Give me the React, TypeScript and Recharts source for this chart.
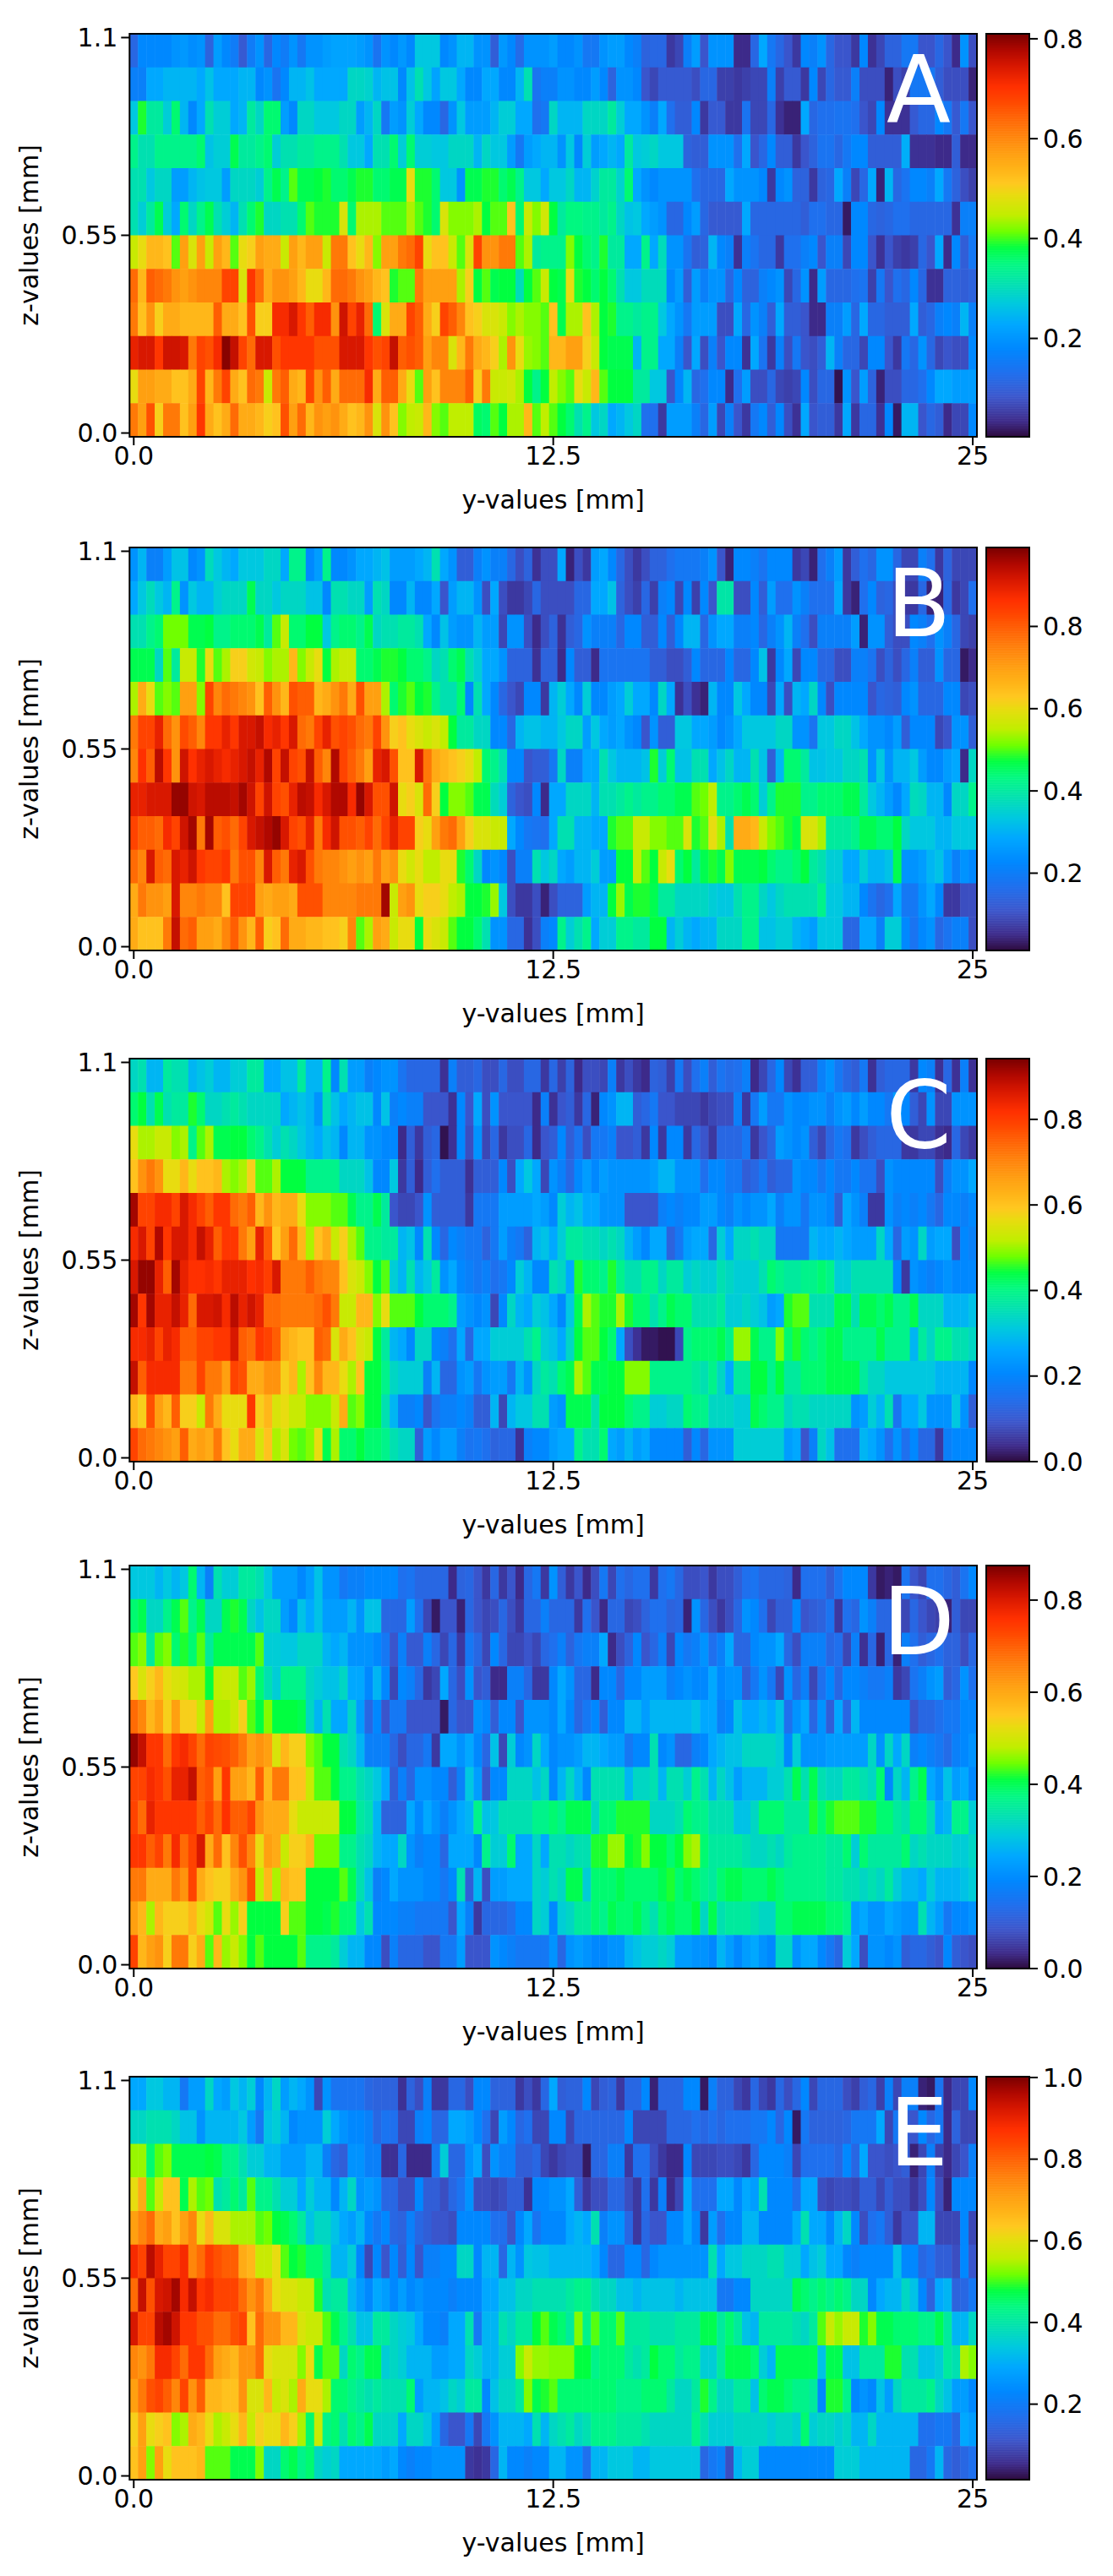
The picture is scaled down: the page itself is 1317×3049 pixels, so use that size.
import { ScatterChart, Scatter, XAxis, YAxis } from 'recharts'

// Each panel has 12 rows (top row first) of 101 columns.
const levelsA: number[][] = [
  [14,22,22,22,22,24,25,23,24,13, 26,22,19,11,19,24,14,22,19,24, 18,24,24,26,27,27,27,26,24,17, 24,22,25,22,33,33,33,22,24,30, 30,24,24,12,25,22,15,24,24,24, 26,22,22,24,18,18,24,26,26,22, 20,13,14,14,6,8,20,26,10,24, 24,24,4,4,14,28,18,14,10,6, 22,20,24,14,10,10,6,22,5,8, 13,13,18,18,10,10,14,10,4,24, 9],
  [20,20,28,28,30,30,30,30,28,32, 28,28,28,30,30,22,24,17,22,30, 30,32,28,28,28,28,36,36,35,30, 32,32,22,32,38,33,27,33,33,28, 22,22,28,28,22,22,30,38,17,20, 20,24,24,22,22,26,22,13,24,24, 22,10,8,11,11,11,11,9,14,14, 7,7,6,7,8,8,20,7,11,11, 6,22,8,14,11,11,20,9,9,9, 3,9,7,18,18,18,12,9,9,9, 3],
  [33,48,40,40,34,44,30,22,28,38, 34,34,28,30,40,36,44,44,26,22, 36,36,33,33,33,36,36,26,30,36, 18,26,24,34,28,22,22,14,24,33, 26,26,26,30,34,34,28,28,16,18, 36,30,30,30,36,36,36,40,34,28, 28,24,20,28,16,12,12,22,6,11, 11,6,6,17,8,8,14,5,3,3, 28,14,16,16,17,17,16,10,8,22, 5,5,5,11,14,14,22,18,11,18, 10],
  [42,38,38,42,42,42,42,42,44,32, 34,34,46,40,40,42,44,34,38,38, 40,40,42,42,42,38,33,33,28,38, 38,44,34,44,34,34,33,33,36,36, 36,30,36,33,33,26,18,26,28,30, 30,24,33,22,34,26,28,30,28,40, 33,34,36,33,33,33,13,12,12,24, 24,24,16,28,10,14,22,12,12,6, 10,13,17,17,14,18,22,22,12,12, 12,12,29,5,5,5,4,4,12,4, 4],
  [38,38,33,36,36,26,26,30,32,33, 33,26,36,36,36,34,42,46,42,50, 46,46,47,48,44,44,46,48,48,44, 44,46,46,60,48,48,44,33,33,24, 46,46,48,48,44,46,42,33,33,28, 33,33,36,30,30,35,40,40,35,44, 28,24,22,24,24,24,24,16,14,14, 14,28,24,24,24,22,6,22,24,13, 13,6,13,14,28,20,8,14,28,3, 30,14,17,22,22,20,28,18,13,9, 7],
  [38,34,40,46,34,28,44,36,42,46, 38,34,30,38,44,48,36,36,38,38, 44,50,48,48,48,58,44,54,54,54, 50,50,50,54,50,48,44,58,52,52, 52,54,47,50,50,64,44,56,52,57, 47,40,43,43,42,42,40,42,36,32, 33,28,26,24,14,14,22,26,14,11, 11,11,11,28,14,14,14,14,14,14, 12,16,16,14,14,2,22,22,14,13, 14,16,16,14,14,14,14,14,5,20, 20],
  [56,60,66,66,64,50,70,58,70,56, 70,66,50,60,62,70,68,68,56,70, 66,70,70,56,76,76,64,60,66,52, 70,70,76,78,84,60,64,64,56,50, 58,84,72,72,76,76,50,54,40,42, 42,42,52,47,44,42,48,40,40,28, 28,42,28,37,24,24,17,12,13,30, 22,20,5,20,17,14,14,6,16,16, 20,22,10,20,20,8,22,22,10,5, 10,7,6,7,14,10,28,4,22,12, 18],
  [78,66,80,78,76,72,70,72,74,74, 74,84,84,58,86,78,68,72,72,70, 66,60,60,66,78,78,76,72,70,66, 64,48,50,50,76,70,70,70,70,54, 62,47,50,46,47,47,37,47,50,56, 47,46,60,48,47,44,47,44,38,33, 33,37,37,37,22,26,12,26,20,24, 24,14,22,13,13,20,22,24,8,14, 24,4,26,14,14,14,16,17,7,18, 10,16,14,22,14,5,5,13,13,12, 13],
  [76,64,72,62,68,68,66,66,66,66, 80,68,68,64,82,62,62,88,88,92, 86,80,88,88,72,93,84,90,78,44, 58,68,68,84,80,68,62,84,80,74, 64,62,58,58,56,52,54,52,52,50, 64,46,54,54,64,54,47,48,42,42, 40,42,42,33,28,24,18,26,26,26, 9,9,28,14,24,20,12,28,12,12, 10,4,4,20,20,26,14,28,14,14, 12,12,12,28,12,14,20,22,20,30, 20],
  [90,92,92,86,93,93,92,76,84,82, 88,99,94,84,78,92,92,82,86,86, 86,86,82,82,82,92,92,92,86,82, 84,94,80,82,80,70,74,74,58,66, 76,68,66,62,54,72,60,53,52,50, 66,66,70,70,62,56,47,46,46,46, 30,42,42,28,28,20,10,28,9,20, 10,22,22,5,28,17,6,20,9,18, 10,9,12,30,20,14,14,8,22,22, 10,6,18,14,24,14,8,10,9,9, 22],
  [60,70,70,68,68,64,64,68,84,66, 76,84,68,64,78,76,56,76,80,68, 66,84,72,80,68,78,78,78,88,68, 80,80,68,60,50,70,64,74,74,74, 80,62,76,56,56,57,54,47,42,47, 55,52,50,60,56,66,50,47,47,47, 40,40,33,33,10,22,30,14,16,22, 22,4,16,26,9,9,14,8,7,8, 22,9,14,14,1,24,10,26,13,3, 9,9,14,14,16,22,28,28,26,26, 26],
  [76,70,82,62,76,76,64,70,86,68, 64,68,78,68,68,66,62,64,82,70, 78,66,72,70,72,68,64,66,72,58, 72,64,52,55,56,66,52,50,55,55, 55,45,44,50,47,54,54,66,50,55, 50,47,44,38,42,33,36,28,30,33, 36,16,16,6,26,26,26,20,14,26, 8,20,10,6,18,22,12,22,9,5, 28,10,12,12,6,28,6,14,14,5, 22,2,30,30,10,14,12,4,8,8, 22],
]

const levelsB: number[][] = [
  [24,30,20,20,26,32,32,22,24,37, 33,30,28,33,33,33,36,36,28,42, 42,22,26,42,22,22,24,28,28,30, 32,26,26,26,28,30,38,28,24,12, 12,20,24,20,20,14,9,13,5,9, 9,28,3,9,6,26,28,22,14,9, 6,9,13,13,16,18,18,18,20,24, 10,3,22,22,20,17,22,22,22,6, 8,3,16,20,26,6,12,16,14,24, 24,14,8,8,20,16,6,13,8,8, 8],
  [28,33,37,33,30,42,24,33,30,30, 34,36,36,36,46,36,36,33,36,36, 36,32,32,22,38,38,36,36,26,38, 36,22,22,30,22,22,28,10,26,30, 30,24,9,28,9,6,6,8,14,9, 9,9,9,14,14,28,28,32,13,9, 7,14,7,20,22,8,22,7,22,10, 39,39,9,9,22,12,26,16,16,24, 20,16,16,16,28,6,3,16,22,13, 14,9,6,6,14,3,3,14,6,8, 16],
  [38,38,42,44,51,51,51,46,46,47, 42,42,44,44,44,46,40,50,56,44, 44,47,47,33,42,44,44,42,46,36, 38,38,40,40,38,28,22,32,26,24, 24,30,26,26,8,24,24,9,4,9, 13,5,12,14,24,20,20,20,14,22, 22,12,12,22,12,22,30,30,14,24, 28,28,20,20,22,14,20,24,30,20, 16,9,20,20,20,20,26,3,24,24, 12,9,9,22,20,16,24,20,14,8, 7],
  [46,46,46,36,50,40,56,56,48,60, 50,54,62,62,57,56,52,54,54,66, 52,56,60,47,54,56,56,44,44,46, 48,48,47,44,44,42,36,38,44,46, 38,34,28,28,24,13,13,13,5,13, 13,4,22,12,12,4,17,17,17,17, 17,17,12,12,9,9,12,22,14,14, 14,22,14,14,22,32,6,22,28,8, 22,22,14,14,9,9,20,20,17,9, 13,9,14,20,12,12,24,14,14,2, 4],
  [54,68,60,50,52,50,70,70,52,84, 74,78,76,74,72,64,80,72,66,82, 80,80,66,68,72,76,68,82,70,70, 54,44,48,50,47,48,42,38,38,44, 22,38,28,22,14,10,8,22,22,6, 30,34,28,22,34,22,22,26,28,34, 28,28,22,36,28,5,9,5,3,30, 22,22,33,28,22,22,8,28,9,30, 28,36,22,9,22,22,22,22,10,14, 13,12,22,24,14,14,14,22,22,8, 9],
  [76,84,84,90,78,72,83,80,74,86, 86,90,86,92,92,94,88,90,86,92, 78,76,84,90,82,84,82,78,76,84, 72,62,64,60,58,56,58,55,47,40, 40,36,36,22,22,14,30,32,32,30, 30,33,36,36,26,33,28,26,28,24, 22,10,24,12,12,33,33,28,28,26, 22,24,28,33,33,33,33,36,36,24, 24,17,33,33,36,36,32,28,24,24, 22,26,12,22,22,22,8,10,24,24, 12],
  [74,87,80,95,86,72,93,87,90,92, 90,88,90,92,94,90,96,84,94,84, 82,94,80,74,96,84,80,76,70,90, 92,82,64,64,92,76,68,66,64,62, 60,55,44,42,38,22,22,10,12,12, 18,36,20,20,28,28,38,33,30,30, 30,32,48,34,44,32,32,38,38,28, 32,36,30,30,38,32,12,30,44,44, 40,32,32,33,33,36,36,38,24,33, 24,30,30,33,26,22,22,26,28,4, 36],
  [90,90,92,92,92,98,98,93,92,95, 95,95,94,97,93,84,93,84,82,90, 95,94,88,92,96,96,88,98,92,82, 82,93,60,62,58,78,62,47,52,52, 50,46,46,37,34,13,10,9,22,4, 28,28,36,36,36,30,38,38,40,42, 40,42,42,44,44,46,46,50,51,55, 42,42,44,46,44,34,42,48,48,48, 42,42,44,44,44,46,46,40,33,30, 26,22,28,37,36,30,30,22,36,36, 42],
  [84,80,80,78,88,84,93,97,76,97, 80,82,78,84,92,94,96,98,92,84, 82,90,76,88,93,82,82,80,84,78, 84,90,84,84,62,60,70,76,78,70, 62,58,58,56,56,28,22,18,17,16, 28,38,38,30,30,28,28,48,50,50, 56,56,52,52,50,50,58,48,50,60, 54,38,68,68,66,56,52,50,48,46, 58,58,54,40,40,40,42,46,46,44, 44,47,36,33,33,33,30,30,33,33, 33],
  [78,74,92,80,78,92,90,93,86,84, 84,86,76,82,82,74,92,80,76,90, 92,82,76,74,74,72,70,72,70,76, 70,72,60,57,60,55,55,60,60,48, 44,36,22,24,22,9,20,20,38,33, 36,28,26,30,30,34,26,26,47,47, 56,50,47,56,60,44,47,40,46,48, 46,52,46,46,46,47,44,42,42,44, 47,40,38,34,34,28,28,34,30,30, 32,46,24,24,26,30,32,26,20,24, 22],
  [68,76,72,72,70,92,74,74,76,74, 74,64,84,84,84,70,68,70,70,68, 82,82,82,74,74,74,74,76,76,76, 97,56,70,72,60,62,62,60,55,54, 47,47,48,53,33,9,6,6,9,3, 9,13,13,13,26,30,30,47,53,46, 48,48,46,40,40,36,36,36,36,34, 33,33,38,42,42,36,33,36,38,38, 38,38,42,33,33,30,30,22,17,14, 16,28,18,18,24,28,22,6,6,9, 9],
  [68,64,64,64,76,94,78,80,70,70, 68,74,80,72,66,80,62,64,78,68, 68,66,66,64,64,62,74,50,54,70, 68,56,60,60,47,60,58,56,50,47, 47,44,38,24,24,14,14,5,9,20, 22,42,34,38,42,28,34,34,42,42, 40,40,47,47,30,34,30,28,30,30, 36,36,36,42,42,32,32,34,34,30, 28,26,33,33,33,14,14,28,28,20, 34,34,22,17,22,24,14,17,20,20, 9],
]

const levelsC: number[][] = [
  [36,38,30,30,40,38,38,30,32,34, 30,30,34,34,40,40,28,28,32,32, 40,30,30,42,22,38,26,26,20,22, 24,24,17,14,14,14,14,5,20,12, 12,14,9,9,14,9,9,14,14,6, 14,7,13,4,9,9,8,20,6,9, 6,4,13,12,7,18,9,16,20,12, 17,15,16,20,4,8,14,22,8,5, 12,12,20,24,18,14,12,18,5,12, 14,14,14,6,22,20,5,14,5,20, 5],
  [44,47,38,46,38,40,40,48,44,36, 36,38,40,38,36,36,36,36,28,30, 32,30,24,38,32,28,30,32,32,22, 32,20,22,20,20,10,10,10,5,22, 10,28,9,24,10,10,10,10,4,20, 5,10,12,6,14,3,22,24,30,30, 12,14,18,10,10,8,8,8,6,8, 9,9,20,6,18,26,18,18,24,22, 22,24,24,20,24,26,22,26,22,22, 18,26,22,12,8,24,8,8,24,24, 24],
  [60,54,54,56,56,52,54,42,50,54, 46,46,47,47,44,42,38,34,38,36, 33,30,28,32,30,22,30,30,24,24, 22,22,4,12,6,12,14,1,5,22, 9,24,8,14,6,9,9,14,4,10, 12,22,12,17,9,18,18,20,10,10, 12,6,22,6,22,22,6,14,10,6, 14,14,14,18,6,10,14,26,24,22, 24,12,8,14,18,16,6,9,12,14, 14,14,6,6,8,8,5,4,14,8, 6],
  [64,72,76,72,60,60,66,60,64,64, 66,54,52,54,62,50,50,54,47,47, 47,42,42,42,42,36,36,36,32,22, 22,33,6,12,4,12,16,12,12,12, 5,12,12,12,22,9,28,33,28,8, 24,20,14,22,26,22,26,24,24,24, 24,24,26,30,30,24,24,24,16,22, 22,18,18,12,14,18,12,14,14,24, 22,22,18,22,18,18,22,17,17,9, 24,22,22,22,22,22,9,20,24,24, 28],
  [97,84,84,88,88,84,92,88,84,80, 86,86,78,76,80,66,72,66,68,68, 60,52,52,52,50,50,46,42,42,46, 40,10,8,8,10,24,12,12,12,12, 6,18,18,18,26,26,26,26,28,26, 22,34,30,32,28,28,24,24,24,10, 10,10,10,20,22,20,22,22,26,26, 22,20,24,22,24,24,28,20,24,24, 18,24,24,22,12,28,24,20,6,6, 24,20,22,20,22,18,14,22,22,20, 22],
  [88,92,84,96,86,92,92,88,94,90, 80,86,86,76,70,90,80,63,70,78, 66,54,64,68,56,62,54,50,42,42, 40,40,30,32,22,38,22,14,22,20, 18,18,13,18,26,20,18,13,30,32, 28,34,40,40,38,38,36,38,36,30, 26,22,28,28,13,18,26,28,28,14, 34,28,36,36,38,36,36,18,18,18, 18,30,28,28,30,28,26,26,26,36, 28,14,26,24,36,26,28,28,9,22, 20],
  [92,98,98,90,80,97,90,87,87,88, 86,90,90,90,87,88,85,92,76,76, 76,80,76,74,74,64,58,56,52,47, 50,34,30,38,30,33,40,24,28,22, 20,18,20,16,18,22,34,30,22,22, 38,36,28,48,44,44,42,48,42,38, 38,42,42,36,40,40,34,36,34,34, 38,36,34,34,34,38,44,42,40,40, 42,42,44,42,34,34,38,38,38,38, 38,22,6,24,22,20,22,24,22,22, 22],
  [97,86,97,90,90,94,90,78,92,92, 93,88,95,90,93,90,78,78,76,76, 76,76,78,82,76,56,56,66,66,52, 60,50,50,50,47,44,44,44,42,26, 24,22,24,8,22,36,30,28,34,32, 28,22,33,46,54,50,48,48,54,48, 44,44,38,42,46,44,44,38,38,38, 40,34,34,36,34,32,26,28,48,50, 50,38,38,38,46,46,38,46,46,44, 46,42,42,46,36,36,36,30,30,30, 32],
  [88,88,90,84,90,88,80,80,84,84, 86,86,92,80,78,86,84,80,68,66, 64,64,80,78,58,68,64,58,56,47, 40,30,28,22,36,36,22,20,16,28, 14,28,28,34,34,34,34,38,42,34, 32,28,36,47,50,50,47,44,28,9, 5,2,2,1,1,8,42,44,44,44, 46,42,53,53,46,42,42,52,44,48, 44,42,44,46,46,42,42,42,42,46, 42,42,42,30,40,36,42,42,38,38, 36],
  [94,80,88,88,88,88,76,76,84,76, 76,70,84,82,68,68,72,72,62,66, 54,64,74,66,66,60,54,64,47,47, 42,36,34,34,34,20,30,14,14,24, 26,18,24,26,26,18,30,24,36,40, 38,44,46,54,50,46,46,47,47,52, 52,52,42,42,42,42,42,40,38,42, 36,28,40,40,47,47,42,47,40,40, 44,44,44,46,46,46,46,40,36,36, 33,33,33,33,33,33,30,30,30,30, 22],
  [66,62,82,70,66,80,62,62,56,76, 68,60,60,60,86,62,66,58,60,56, 56,52,52,52,56,68,50,52,47,47, 38,30,20,20,22,10,17,20,20,22, 20,12,12,30,8,30,33,33,38,38, 26,24,46,46,46,38,47,47,47,44, 42,42,34,34,36,36,44,42,42,36, 36,36,34,34,46,44,42,42,36,38, 38,36,36,36,36,36,24,26,34,30, 38,17,28,28,33,24,24,24,33,24, 12],
  [84,78,76,74,72,70,80,68,70,68, 76,64,60,68,68,58,64,54,58,51, 50,52,60,46,54,44,44,47,44,44, 42,38,36,36,12,26,22,26,26,20, 17,18,16,13,14,14,5,20,22,22, 26,28,28,42,38,38,44,28,26,30, 26,28,22,22,22,22,12,22,14,24, 24,24,34,34,34,34,34,34,26,28, 10,20,36,32,16,16,16,30,28,24, 16,24,16,22,14,14,6,20,22,22, 22],
]

const levelsD: number[][] = [
  [33,33,33,30,33,30,33,44,30,20, 38,34,34,40,40,38,33,26,26,26, 22,26,32,24,24,18,20,20,22,22, 22,22,16,17,14,14,14,14,4,13, 14,10,6,14,6,10,4,14,18,6, 24,12,6,10,4,9,18,8,16,14, 16,16,6,16,18,14,9,9,10,6, 9,9,12,16,17,14,14,14,13,4, 16,16,16,12,17,22,22,22,6,2, 3,2,17,10,8,16,16,14,12,17, 22],
  [44,46,36,36,42,46,50,42,46,36, 36,46,48,46,36,32,36,36,26,22, 32,28,32,26,26,26,30,24,32,32, 14,14,14,26,16,8,2,10,10,3, 14,10,8,9,14,9,6,14,14,20, 14,14,14,6,16,10,4,14,14,8, 9,13,16,16,13,14,3,24,14,9, 6,9,14,24,22,16,8,12,12,22, 10,12,13,17,6,16,14,24,20,14, 14,9,8,14,10,8,7,3,12,8, 8],
  [50,52,40,50,52,44,48,44,50,40, 46,46,46,46,46,50,34,34,33,33, 36,36,36,30,28,30,24,24,24,22, 18,10,20,11,11,20,14,8,14,6, 18,14,8,22,14,8,8,10,8,14, 16,20,13,18,20,20,28,4,9,13, 22,10,14,20,8,22,18,20,24,16, 20,28,14,14,22,24,24,28,14,9, 20,20,20,14,16,8,20,5,14,3, 14,3,20,16,12,14,16,13,13,9, 14],
  [63,58,62,66,60,58,57,54,54,47, 55,56,56,50,53,44,38,34,42,42, 42,36,34,32,32,36,28,28,22,30, 22,8,22,20,14,6,8,28,14,9, 24,10,12,4,4,20,20,14,6,6, 22,28,24,14,14,4,22,22,14,22, 22,26,26,26,20,22,24,22,22,28, 22,24,24,12,18,24,18,8,24,14, 20,8,16,22,14,22,22,20,18,18, 20,6,8,17,20,24,26,12,14,24, 16],
  [78,74,66,70,62,70,62,62,56,70, 54,54,56,62,50,47,52,47,47,47, 46,36,30,38,28,28,36,26,14,22, 10,18,18,10,10,10,10,2,14,10, 10,24,22,12,22,22,10,24,24,24, 22,28,22,14,18,22,12,22,22,30, 30,26,30,30,30,30,30,32,28,28, 20,22,32,28,28,30,28,32,16,24, 28,14,24,12,28,14,30,22,22,22, 22,22,22,10,14,14,16,18,18,22, 22],
  [98,94,86,86,78,86,88,84,78,84, 83,82,80,76,70,72,70,58,66,62, 62,52,50,47,47,38,36,30,20,20, 20,14,9,14,14,18,6,28,28,24, 28,22,14,32,8,34,22,24,36,28, 22,24,24,26,30,30,28,26,26,18, 22,22,38,22,24,14,14,20,22,28, 30,32,32,36,36,36,36,34,22,34, 24,24,24,26,26,26,26,26,36,24, 36,28,36,20,22,20,18,15,20,22, 24],
  [84,84,88,86,82,90,90,94,80,82, 70,86,70,70,66,80,66,76,76,64, 64,56,50,50,47,42,42,38,36,33, 28,12,20,14,24,24,22,22,12,20, 33,26,10,22,22,36,36,36,32,36, 22,30,36,30,22,38,38,38,38,30, 36,36,38,30,38,38,34,42,38,30, 36,32,26,30,30,30,34,34,38,46, 38,46,38,36,36,40,40,38,36,44, 22,36,30,42,46,28,24,32,26,28, 22],
  [84,78,90,86,86,86,86,86,80,84, 78,87,80,80,84,72,68,68,68,60, 56,56,56,56,56,47,47,40,38,30, 13,13,13,28,22,28,24,20,24,28, 30,42,32,33,38,38,38,38,42,42, 44,42,46,46,46,36,44,44,48,48, 48,48,36,36,36,38,44,42,42,38, 38,38,32,32,36,44,44,44,40,40, 40,48,44,48,50,50,50,48,48,44, 44,40,38,44,44,38,28,30,42,42, 34],
  [86,86,80,84,76,88,78,84,92,68, 78,64,74,82,74,60,70,68,56,62, 62,66,51,51,51,42,42,38,36,30, 28,28,36,24,20,22,22,14,28,28, 28,22,42,34,34,44,28,28,36,28, 38,38,36,38,38,48,48,53,53,47, 48,52,47,47,44,47,52,54,44,40, 40,40,40,38,36,36,38,36,40,42, 42,42,42,40,40,44,34,44,40,40, 40,40,44,36,38,36,36,36,34,34, 36],
  [76,76,68,68,68,76,72,84,68,64, 62,62,68,72,82,55,66,54,66,64, 64,47,47,47,47,50,46,38,32,20, 22,28,24,24,24,22,22,18,22,38, 12,30,9,26,26,28,28,28,36,34, 38,36,46,46,34,44,44,44,46,44, 44,44,44,46,48,44,46,44,42,40, 44,46,46,44,44,44,46,44,42,42, 42,42,42,40,40,38,38,36,38,36, 40,34,30,30,28,34,30,30,30,32, 34],
  [70,66,54,66,62,62,62,66,60,57, 50,60,53,62,47,47,47,47,62,50, 50,47,47,46,48,44,44,33,38,22, 22,22,20,20,18,18,18,18,10,28, 20,6,14,14,14,16,22,22,36,34, 22,34,36,40,40,44,42,46,44,44, 46,42,38,44,46,44,44,47,36,46, 38,40,40,40,38,36,36,44,44,46, 46,46,46,44,44,42,26,28,24,24, 28,26,24,24,38,30,26,18,22,22, 24],
  [84,66,70,72,62,76,76,62,68,50, 66,53,56,52,47,50,47,47,47,47, 50,42,42,42,40,34,30,30,22,22, 9,20,14,14,14,10,10,18,18,26, 10,10,10,24,22,20,18,18,18,18, 24,14,24,26,24,22,22,24,24,30, 32,34,34,36,34,26,26,24,24,22, 30,26,22,26,28,24,22,36,36,24, 28,28,22,18,14,34,28,9,24,24, 22,24,12,14,14,12,10,22,12,10, 9],
]

const levelsE: number[][] = [
  [28,28,33,33,30,30,18,26,26,36, 28,26,33,30,34,22,30,36,26,30, 28,24,8,24,17,17,17,17,14,13, 13,13,5,13,9,20,6,6,14,14, 9,22,22,13,13,13,6,9,6,14, 28,12,13,13,22,8,12,13,6,14, 14,22,3,14,14,14,22,22,2,20, 13,13,8,6,14,8,6,14,9,14, 22,8,14,14,14,9,7,12,14,7, 20,8,20,20,3,2,17,4,8,8, 22],
  [36,36,38,38,38,36,32,32,24,30, 30,30,30,33,26,18,32,34,30,22, 24,24,24,34,28,24,22,22,20,14, 17,16,8,8,20,22,14,14,28,28, 26,22,16,8,26,22,14,16,8,8, 22,22,8,14,14,14,14,14,14,22, 8,8,8,8,14,14,14,16,14,16, 14,16,16,16,18,18,22,14,22,2, 18,13,13,13,13,14,18,18,18,28, 8,18,12,10,22,14,18,4,13,8, 8],
  [53,53,44,50,52,46,46,46,46,47, 46,42,42,38,34,34,30,30,26,26, 26,30,30,20,14,12,24,24,20,20, 5,5,14,4,4,4,18,34,14,14, 24,28,9,24,20,20,12,12,14,8, 6,8,9,9,2,14,14,20,20,6, 16,16,9,6,4,4,22,8,8,8, 9,9,8,6,14,22,22,22,20,8, 16,16,16,16,14,22,14,28,10,10, 9,10,12,3,8,20,7,4,8,10, 20],
  [60,68,50,56,64,64,46,54,50,51, 38,40,44,40,50,42,42,38,34,34, 28,34,30,30,22,30,36,24,26,24, 14,14,9,9,22,12,12,9,14,17, 24,9,9,8,9,12,12,5,22,22, 24,24,28,12,6,9,9,14,14,9, 6,16,6,20,4,8,28,16,16,16, 28,28,22,28,26,38,22,22,22,16, 28,28,9,8,9,9,8,12,12,8, 12,9,9,6,9,22,9,3,22,22, 22],
  [70,74,78,68,70,64,70,74,60,66, 58,58,54,54,54,50,51,47,46,44, 40,32,36,36,32,28,26,30,22,18, 22,14,13,20,14,12,10,10,9,22, 22,22,22,16,16,10,22,28,17,22, 22,22,28,30,28,38,20,24,24,14, 6,14,10,10,22,22,28,22,6,26, 16,22,22,30,30,22,22,22,22,28, 38,28,28,22,30,36,22,9,16,18, 12,6,10,10,30,30,8,8,8,22, 8],
  [88,84,95,90,84,84,88,74,78,85, 82,80,80,68,66,56,56,60,50,47, 48,44,44,40,30,30,34,22,8,22, 10,22,12,22,10,20,20,22,22,36, 36,22,30,30,14,30,24,33,32,32, 30,30,30,30,30,28,22,14,14,22, 22,14,22,24,24,24,24,24,24,38, 28,33,33,36,36,36,38,38,34,34, 28,32,34,28,28,22,20,22,22,22, 22,32,22,22,14,16,12,12,9,22, 10],
  [78,94,82,92,93,97,88,94,86,88, 84,84,84,78,72,76,68,60,58,58, 56,56,48,38,40,40,30,26,22,28, 26,22,26,22,24,22,22,22,20,22, 22,22,28,28,32,32,36,36,38,38, 38,38,40,42,42,38,36,36,32,32, 30,32,32,32,32,30,32,32,32,32, 18,18,22,22,36,36,36,36,36,46, 44,42,44,42,44,42,36,36,22,28, 30,30,36,32,22,13,28,30,13,14, 18],
  [92,84,84,95,97,93,86,86,82,82, 78,78,82,84,64,78,72,72,66,66, 58,56,56,50,46,42,38,32,32,40, 40,36,34,33,28,22,22,20,28,28, 38,18,30,30,38,36,40,40,47,50, 46,44,40,52,42,50,44,44,50,40, 40,40,38,38,38,40,40,40,46,46, 40,44,40,32,30,40,40,40,40,38, 36,40,50,56,53,56,56,48,52,46, 46,44,44,44,42,42,46,40,30,30, 36],
  [74,72,76,88,88,84,78,86,86,78, 70,68,66,72,72,78,60,58,58,58, 52,60,46,50,50,36,44,42,46,46, 34,36,34,30,30,30,26,26,28,28, 36,34,30,30,34,34,52,56,53,53, 52,52,52,47,47,42,44,44,44,40, 38,40,47,44,44,40,42,42,34,34, 40,46,46,46,44,34,30,46,46,46, 46,46,32,46,46,32,32,40,40,40, 48,48,38,38,32,32,34,40,38,54, 52],
  [70,76,82,84,80,74,84,72,80,66, 66,64,64,72,58,58,66,56,58,54, 68,60,60,54,44,44,42,40,38,40, 38,38,38,44,26,30,30,32,36,34, 40,40,22,32,36,36,40,52,46,48, 50,44,44,44,44,44,44,44,42,42, 42,44,44,44,40,36,36,40,48,42, 36,36,40,40,32,44,46,46,44,42, 42,40,22,48,48,42,22,24,22,32, 26,36,40,40,40,42,36,32,26,26, 22],
  [62,70,60,62,64,52,54,68,66,60, 54,56,60,66,56,62,60,60,66,62, 54,44,56,42,44,38,44,42,46,36, 36,36,28,36,36,33,26,14,10,10, 18,8,18,24,30,30,30,28,38,30, 36,38,40,36,38,42,42,42,40,40, 40,38,36,36,36,36,36,42,38,34, 34,34,36,36,36,36,34,36,36,34, 44,34,36,36,34,36,30,30,36,30, 30,30,30,30,16,16,18,18,14,28, 26],
  [64,70,52,70,60,64,64,64,66,50, 50,50,46,46,46,52,36,36,44,46, 42,44,36,34,36,28,28,28,28,28, 26,28,22,20,22,22,24,24,24,24, 6,5,6,14,30,22,22,20,22,22, 30,30,24,24,16,30,30,33,33,33, 30,30,33,33,33,33,33,33,14,18, 20,9,30,34,34,22,22,22,22,22, 22,22,22,22,34,34,34,30,30,30, 30,30,30,14,14,18,30,14,12,14, 16],
]

const panelLevels = [levelsA, levelsB, levelsC, levelsD, levelsE]
const panelNames = ['A', 'B', 'C', 'D', 'E']
const panelTops = [40, 648, 1253, 1853, 2458]
const barRanges = [[0.003, 0.81], [0.012, 0.992], [0, 0.942], [0, 0.875], [0.015, 1.002]]
const barTicks = [
  [0.2, 0.4, 0.6, 0.8],
  [0.2, 0.4, 0.6, 0.8],
  [0, 0.2, 0.4, 0.6, 0.8],
  [0, 0.2, 0.4, 0.6, 0.8],
  [0.2, 0.4, 0.6, 0.8, 1],
]
const xTicks = [0, 12.5, 25]
const zTicks = [0, 0.55, 1.1]

// colour map of the figure, position on the bar -> colour
const colorStops: [number, string][] = [
  [0, '#2d0a3c'], [0.04, '#3d2a8a'], [0.1, '#3a55cc'], [0.16, '#1f70ee'], [0.22, '#0088ff'],
  [0.28, '#00a8ff'], [0.33, '#00c8e0'], [0.38, '#00e0b0'], [0.43, '#00f880'], [0.47, '#00ff40'],
  [0.51, '#70ff00'], [0.55, '#c0ee00'], [0.6, '#e8dc10'], [0.63, '#ffc820'], [0.7, '#ffa010'],
  [0.75, '#ff8008'], [0.82, '#ff5000'], [0.87, '#ff3000'], [0.92, '#d81800'], [0.96, '#b00800'],
  [1, '#7a0000'],
]

const FONT = 'DejaVu Sans'
const FONT_SIZE = 30
const PLOT_LEFT = 153.3
const PLOT_W = 1002.7
const PLOT_H = 477
const CELL_W = PLOT_W / 101
const CELL_H = PLOT_H / 12
const X_DOMAIN = [-0.125, 25.125]
const Z_DOMAIN = [-0.0105, 1.1105]
const BAR_LEFT = 1167
const BAR_W = 51
const BAR_STEPS = 240

function hexToRgb(hex: string) {
  return [1, 3, 5].map(i => parseInt(hex.slice(i, i + 2), 16))
}

function colorOf(t: number) {
  const v = Math.max(0, Math.min(1, t))
  let i = 0
  while (i < colorStops.length - 2 && colorStops[i + 1][0] < v) i++
  const [p0, c0] = colorStops[i]
  const [p1, c1] = colorStops[i + 1]
  const f = (v - p0) / (p1 - p0)
  const a = hexToRgb(c0)
  const b = hexToRgb(c1)
  return `rgb(${a.map((x, k) => Math.round(x + (b[k] - x) * f)).join(',')})`
}

function HeatCell(props: any) {
  const { cx, cy, payload } = props
  return (
    <rect
      x={cx - CELL_W / 2}
      y={cy - CELL_H / 2}
      width={CELL_W + 0.5}
      height={CELL_H + 0.5}
      fill={colorOf(payload.level / 100)}
    />
  )
}

function BarStep(props: any) {
  const { cx, cy, payload } = props
  const h = PLOT_H / BAR_STEPS
  return (
    <rect x={cx - BAR_W / 2} y={cy - h / 2} width={BAR_W} height={h + 0.5} fill={colorOf(payload.t)} />
  )
}

function toPoints(levels: number[][]) {
  const zSpan = Z_DOMAIN[1] - Z_DOMAIN[0]
  return levels.flatMap((row, r) =>
    row.map((level, c) => ({
      y: c * 0.25,
      z: Z_DOMAIN[1] - ((r + 0.5) * zSpan) / 12,
      level,
    })),
  )
}

// the colour bar is the colour scale itself, one small step per point
function toBarPoints(vmin: number, vmax: number) {
  return Array.from({ length: BAR_STEPS }, (_, i) => {
    const t = (i + 0.5) / BAR_STEPS
    return { u: 0.5, v: vmin + t * (vmax - vmin), t }
  })
}

function Panel({ index }: { index: number }) {
  const top = panelTops[index]
  const name = panelNames[index]
  const [vmin, vmax] = barRanges[index]
  const textStyle = { fontFamily: FONT, fontSize: FONT_SIZE, fill: '#000' }
  const points = toPoints(panelLevels[index])

  return (
    <>
      <div style={{ position: 'absolute', left: 0, top: top - 20 }}>
        <ScatterChart
          width={1170}
          height={600}
          margin={{ top: 20, right: 14, left: 0, bottom: 0 }}
        >
          <XAxis
            type="number"
            dataKey="y"
            domain={X_DOMAIN}
            ticks={xTicks}
            allowDataOverflow
            tickFormatter={(v: number) => (v === 25 ? '25' : v.toFixed(1))}
            tick={textStyle}
            tickSize={10}
            tickMargin={2}
            tickLine={{ stroke: '#000', strokeWidth: 2 }}
            axisLine={false}
            height={103}
            label={{ value: 'y-values [mm]', position: 'insideBottom', offset: 18, style: textStyle }}
          />
          <YAxis
            type="number"
            dataKey="z"
            domain={Z_DOMAIN}
            ticks={zTicks}
            allowDataOverflow
            tickFormatter={(v: number) => String(v === 0 ? '0.0' : v)}
            tick={textStyle}
            tickSize={10}
            tickMargin={4}
            tickLine={{ stroke: '#000', strokeWidth: 2 }}
            axisLine={false}
            width={PLOT_LEFT}
            label={{
              value: 'z-values [mm]',
              angle: -90,
              position: 'insideLeft',
              offset: 34,
              style: { ...textStyle, textAnchor: 'middle' },
            }}
          />
          <Scatter data={points} shape={HeatCell} isAnimationActive={false} />
        </ScatterChart>
      </div>

      <div style={{ position: 'absolute', left: BAR_LEFT, top: top - 20 }}>
        <ScatterChart width={150} height={PLOT_H + 40} margin={{ top: 20, right: 0, left: 0, bottom: 20 }}>
          <XAxis type="number" dataKey="u" domain={[0, 1]} hide />
          <YAxis
            type="number"
            dataKey="v"
            orientation="right"
            domain={[vmin, vmax]}
            ticks={barTicks[index]}
            allowDataOverflow
            tickFormatter={(v: number) => v.toFixed(1)}
            tick={textStyle}
            tickSize={10}
            tickMargin={6}
            tickLine={{ stroke: '#000', strokeWidth: 2 }}
            axisLine={false}
            width={150 - BAR_W}
          />
          <Scatter data={toBarPoints(vmin, vmax)} shape={BarStep} isAnimationActive={false} />
        </ScatterChart>
      </div>

      <svg
        width={1317}
        height={PLOT_H + 4}
        style={{ position: 'absolute', left: 0, top: top - 2, pointerEvents: 'none' }}
      >
        <rect x={PLOT_LEFT} y={2} width={PLOT_W} height={PLOT_H} fill="none" stroke="#000" strokeWidth={2} />
        <rect x={BAR_LEFT} y={2} width={BAR_W} height={PLOT_H} fill="none" stroke="#000" strokeWidth={2} />
        <text x={1087} y={107} textAnchor="middle" fill="#fff" fontFamily={FONT} fontSize={111}>
          {name}
        </text>
      </svg>
    </>
  )
}

export default function App() {
  return (
    <div style={{ position: 'absolute', left: 0, top: 0, width: 1317, height: 3049, background: '#fff' }}>
      {panelNames.map((_, i) => (
        <Panel key={i} index={i} />
      ))}
    </div>
  )
}
